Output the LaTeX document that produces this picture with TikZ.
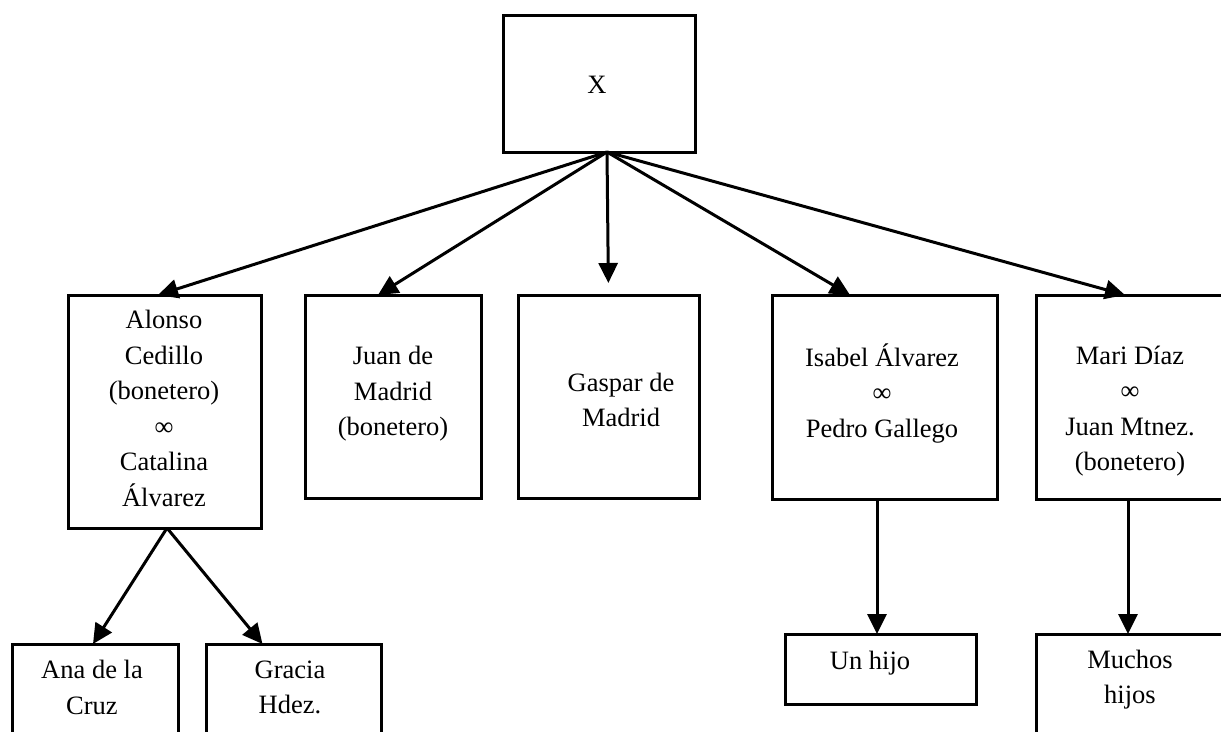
\documentclass[tikz,border=0pt]{standalone}
\usepackage{fontspec}
\setmainfont{Liberation Serif}
\usetikzlibrary{arrows.meta}
\tikzset{
  box/.style={draw, line width=3pt, inner sep=0pt, outer sep=0pt, rectangle},
  txt/.style={inner sep=0pt, align=center, font=\fontsize{26.5}{35.5}\selectfont},
  conn/.style={line width=3pt, -{Triangle[length=20pt,width=19pt]}},
}
\begin{document}
\begin{tikzpicture}[x=1pt,y=-1pt]
\fill[white] (0,0) rectangle (1221,731);
\clip (0,0) rectangle (1221,731);
% boxes
\node[box, minimum width=192pt, minimum height=137pt] (x) at (599,83.5) {};
\node[box, minimum width=193pt, minimum height=233pt] (alonso) at (164.5,411.5) {};
\node[box, minimum width=176pt, minimum height=203pt] (juan) at (393,396.5) {};
\node[box, minimum width=181pt, minimum height=203pt] (gaspar) at (608.5,396.5) {};
\node[box, minimum width=225pt, minimum height=204pt] (isabel) at (884.5,397) {};
\node[box, minimum width=190pt, minimum height=204pt] (mari) at (1131,397) {};
\node[box, minimum width=166pt, minimum height=101pt] (ana) at (95,694.5) {};
\node[box, minimum width=175pt, minimum height=101pt] (gracia) at (293.5,694.5) {};
\node[box, minimum width=191pt, minimum height=70pt] (unhijo) at (880.5,669) {};
\node[box, minimum width=190pt, minimum height=111pt] (muchos) at (1131,689.5) {};
% texts
\node[txt] (tx) at (597,85) {X};
\node[txt] (talonso) at (164,408.5) {Alonso\\Cedillo\\(bonetero)\\∞\\Catalina\\Álvarez};
\node[txt] (tjuan) at (393,394) {Juan de\\Madrid\\(bonetero)};
\node[txt] (tgaspar) at (621,400) {Gaspar de\\Madrid};
\node[txt] (tisabel) at (882,393) {Isabel Álvarez\\∞\\Pedro Gallego};
\node[txt] (tmari) at (1130,411) {Mari Díaz\\∞\\Juan Mtnez.\\(bonetero)};
\node[txt] (tana) at (92,687.5) {Ana de la\\Cruz};
\node[txt] (tgracia) at (290,687.5) {Gracia\\Hdez.};
\node[txt] (tunhijo) at (870,663) {Un hijo};
\node[txt] (tmuchos) at (1130,679.5) {Muchos\\hijos};
% connectors
\coordinate (apex) at ([xshift=8pt]x.south);
\draw[conn] (apex) -- ([xshift=-6.5pt]alonso.north);
\draw[conn] (apex) -- ([xshift=-15pt]juan.north);
\draw[conn, shorten >=12pt] (apex) -- (gaspar.north);
\draw[conn] (apex) -- ([xshift=-34.5pt]isabel.north);
\draw[conn] (apex) -- ([xshift=-6pt]mari.north);
\coordinate (abot) at ([xshift=2.5pt]alonso.south);
\draw[conn] (abot) -- ([xshift=-2pt]ana.north);
\draw[conn] (abot) -- ([xshift=-31pt]gracia.north);
\draw[conn] ([xshift=-7.5pt]isabel.south) -- ([xshift=-3.5pt]unhijo.north);
\draw[conn] ([xshift=-3pt]mari.south) -- ([xshift=-3pt]muchos.north);
\end{tikzpicture}
\end{document}
